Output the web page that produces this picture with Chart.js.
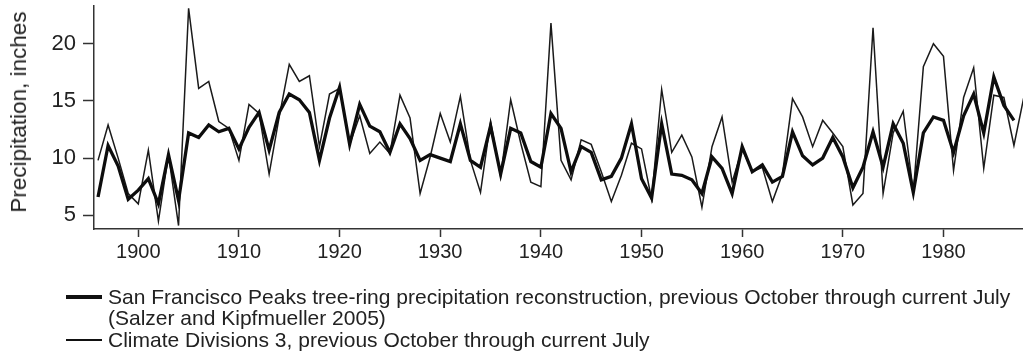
<!DOCTYPE html>
<html>
<head>
<meta charset="utf-8">
<script src="https://cdn.jsdelivr.net/npm/chart.js@4/dist/chart.umd.min.js"></script>
<style>
  body { margin: 0; background: #fff; }
  #wrap { position: relative; width: 1023px; height: 354px; font-family: "Liberation Sans", Arial, sans-serif; color: #222; }
  #legend { position: absolute; left: 66px; top: 286px; font-size: 21px; }
  .row { display: flex; align-items: center; height: 21.5px; white-space: nowrap; }
  .sw { width: 36px; margin-right: 6px; background: #111; }
  .indent { padding-left: 42px; }
  #ytitle { position: absolute; left: 19px; top: 112px; font-size: 22.5px; white-space: nowrap;
            transform: translate(-50%, -50%) rotate(-90deg); }
</style>
</head>
<body>
<div id="wrap">
  <canvas id="precipChart" width="1023" height="354"></canvas>
  <div id="ytitle">Precipitation, inches</div>
  <div id="legend">
    <div class="row"><span class="sw" style="height:4px"></span>San Francisco Peaks tree-ring precipitation reconstruction, previous October through current July</div>
    <div class="row indent">(Salzer and Kipfmueller 2005)</div>
    <div class="row"><span class="sw" style="height:1.5px"></span>Climate Divisions 3, previous October through current July</div>
  </div>
</div>
<script>
// years 1896 - 1988
const startYear = 1896;
const reconstruction = [
  6.6, 11.1, 9.3, 6.4, 7.2, 8.2, 6.0, 10.3, 6.3, 12.2,   // 1896-1905
  11.8, 12.9, 12.3, 12.6, 10.8, 12.7, 14.0, 10.7, 14.0, 15.6, // 1906-1915
  15.1, 14.0, 9.8, 13.5, 16.2, 11.2, 14.7, 12.8, 12.3, 10.5,  // 1916-1925
  13.0, 11.7, 9.8, 10.3, 10.0, 9.7, 13.0, 9.8, 9.2, 12.8,     // 1926-1935
  8.6, 12.6, 12.2, 9.7, 9.2, 13.9, 12.6, 8.8, 11.0, 10.5,     // 1936-1945
  8.1, 8.4, 10.0, 13.0, 8.2, 6.5, 13.0, 8.6, 8.5, 8.1,        // 1946-1955
  6.9, 10.1, 9.1, 6.9, 11.0, 8.8, 9.4, 7.9, 8.4, 12.3,        // 1956-1965
  10.2, 9.4, 10.0, 11.8, 10.1, 7.4, 9.2, 12.3, 9.2, 13.0,     // 1966-1975
  11.3, 7.0, 12.2, 13.6, 13.3, 10.5, 13.7, 15.6, 12.2, 17.1,  // 1976-1985
  14.6, 13.3, null                                           // 1986-1988
];
const climateDiv3 = [
  9.8, 12.9, 10.0, 6.9, 6.0, 10.7, 4.5, 10.3, 4.1, 23.1,
  16.1, 16.7, 13.2, 12.6, 9.8, 14.7, 13.9, 8.6, 13.6, 18.2,
  16.7, 17.2, 11.0, 15.6, 16.1, 11.2, 13.7, 10.4, 11.4, 10.4,
  15.5, 13.5, 6.9, 10.1, 13.9, 11.4, 15.4, 9.8, 7.0, 13.2,
  8.4, 15.1, 11.3, 7.9, 7.5, 21.8, 9.8, 8.1, 11.6, 11.2,
  8.8, 6.2, 8.5, 11.3, 10.8, 6.4, 16.0, 10.5, 12.0, 10.1,
  5.7, 11.0, 13.6, 7.9, 10.8, 8.8, 9.2, 6.2, 8.6, 15.2,
  13.6, 11.0, 13.3, 12.2, 11.0, 5.9, 6.9, 21.4, 6.9, 12.2,
  14.1, 7.0, 18.0, 20.0, 18.9, 8.9, 15.3, 17.9, 9.1, 15.5,
  15.3, 11.1, 15.4
];
const xTicks = [1900, 1910, 1920, 1930, 1940, 1950, 1960, 1970, 1980];
const yTicks = [5, 10, 15, 20];

const toPoints = arr => arr.map((v, i) => ({ x: startYear + i, y: v }));

const ctx = document.getElementById('precipChart');
new Chart(ctx, {
  type: 'line',
  data: {
    datasets: [
      {
        label: 'San Francisco Peaks tree-ring precipitation reconstruction',
        data: toPoints(reconstruction),
        borderColor: '#0d0d0d',
        borderWidth: 3.3,
        pointRadius: 0,
        tension: 0,
        order: 0
      },
      {
        label: 'Climate Divisions 3',
        data: toPoints(climateDiv3),
        borderColor: '#1a1a1a',
        borderWidth: 1.5,
        pointRadius: 0,
        tension: 0,
        order: 1
      }
    ]
  },
  options: {
    responsive: false,
    animation: false,
    layout: { padding: { top: 6, left: 0, right: 0, bottom: 0 } },
    plugins: { legend: { display: false }, tooltip: { enabled: false } },
    scales: {
      x: {
        type: 'linear',
        min: 1895.6,
        max: 1987.9,
        afterBuildTicks: axis => { axis.ticks = xTicks.map(v => ({ value: v })); },
        afterFit: axis => { axis.height = 125; },
        grid: { drawOnChartArea: false, drawTicks: true, tickLength: 8, tickColor: '#333', tickWidth: 1.5 },
        border: { display: true, color: '#333', width: 1.5 },
        ticks: {
          color: '#222',
          padding: 3,
          maxRotation: 0,
          font: { family: '"Liberation Sans", Arial, sans-serif', size: 20 },
          callback: v => String(v)
        }
      },
      y: {
        min: 3.8,
        max: 23.3,
        afterBuildTicks: axis => { axis.ticks = yTicks.map(v => ({ value: v })); },
        afterFit: axis => { axis.width = 94; axis.paddingTop = 0; axis.paddingBottom = 0; },
        grid: { drawOnChartArea: false, drawTicks: true, tickLength: 11, tickColor: '#333', tickWidth: 1.5 },
        border: { display: true, color: '#333', width: 1.5 },
        ticks: {
          color: '#222',
          padding: 7,
          font: { family: '"Liberation Sans", Arial, sans-serif', size: 22 }
        }
      }
    }
  }
});
</script>
</body>
</html>
